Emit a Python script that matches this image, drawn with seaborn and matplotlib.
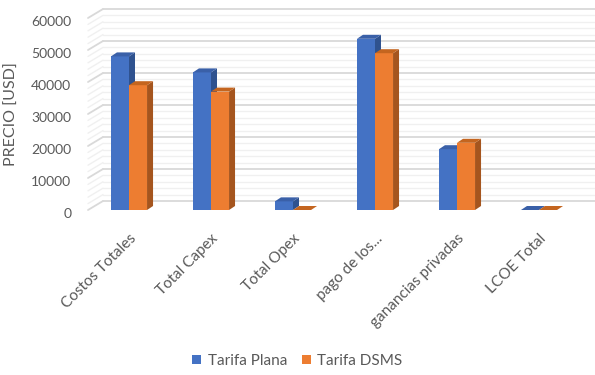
import matplotlib
matplotlib.use("Agg")
import matplotlib.pyplot as plt
import matplotlib.transforms as mtransforms
from matplotlib.patches import Polygon
from matplotlib.lines import Line2D
import seaborn as sns
import pandas as pd

categories = ["Costos Totales", "Total Capex", "Total Opex", "pago de los...",
              "ganancias privadas", "LCOE Total"]
series_names = ["Tarifa Plana", "Tarifa DSMS"]
tarifa_plana = [48000, 43000, 2700, 53500, 19000, 0]
tarifa_dsms = [39000, 37000, 0, 49000, 21000, 0]
y_ticks = [0, 10000, 20000, 30000, 40000, 50000, 60000]

df = pd.DataFrame({
    "categoria": categories * 2,
    "serie": [series_names[0]] * len(categories) + [series_names[1]] * len(categories),
    "precio": tarifa_plana + tarifa_dsms,
})

front = {"Tarifa Plana": "#4472C4", "Tarifa DSMS": "#ED7D31"}
side = {"Tarifa Plana": "#2F528F", "Tarifa DSMS": "#A5551E"}
top = {"Tarifa Plana": "#3A60A8", "Tarifa DSMS": "#C4651F"}
text_color = "#595959"

sns.set_theme(style="white")
plt.rcParams["font.family"] = ["Lato", "DejaVu Sans"]

W_PX, H_PX = 595, 375
fig = plt.figure(figsize=(W_PX / 100, H_PX / 100), dpi=100)
ax_left, ax_right, ax_top, ax_bottom = 88, 580, 18, 210
ax = fig.add_axes([ax_left / W_PX, 1 - ax_bottom / H_PX,
                   (ax_right - ax_left) / W_PX, (ax_bottom - ax_top) / H_PX])

sns.barplot(data=df, x="categoria", y="precio", hue="serie", order=categories,
            hue_order=series_names, palette=front, saturation=1, width=0.44,
            linewidth=0, legend=False, ax=ax, zorder=2)

ax.set_xlim(-0.5, len(categories) - 0.5)
ax.set_ylim(0, 60000)

# pixel -> data unit conversion for the fake depth
ux = (len(categories)) / (ax_right - ax_left)
uy = 60000 / (ax_bottom - ax_top)

# back wall and left side wall gridlines
wall_dx, wall_dy = 15 * ux, 9 * uy
x0, x1 = ax.get_xlim()
for v in range(0, 60001, 2000):
    major = v % 10000 == 0
    col = "#D9D9D9" if major else "#F0F0F0"
    lw = 1.3 if major else 1.0
    ax.add_line(Line2D([x0 + wall_dx, x1 + wall_dx], [v + wall_dy, v + wall_dy],
                       color=col, lw=lw, zorder=0.5 if major else 0.4, clip_on=False))
    ax.add_line(Line2D([x0, x0 + wall_dx], [v, v + wall_dy],
                       color=col, lw=lw, zorder=0.5 if major else 0.4, clip_on=False))

# side and top faces of each bar
bar_dx, bar_dy = 6 * ux, 4 * uy
for k, (name, cont) in enumerate(zip(series_names, ax.containers)):
    for rect in cont.patches:
        rect.set_zorder(2 + k)
        bx0 = rect.get_x()
        bx1 = bx0 + rect.get_width()
        h = rect.get_height()
        side_poly = Polygon([(bx1, 0), (bx1 + bar_dx, bar_dy), (bx1 + bar_dx, h + bar_dy), (bx1, h)],
                            closed=True, facecolor=side[name], edgecolor="none",
                            zorder=2 + k + 0.1, clip_on=False)
        top_poly = Polygon([(bx0, h), (bx0 + bar_dx, h + bar_dy), (bx1 + bar_dx, h + bar_dy), (bx1, h)],
                           closed=True, facecolor=top[name], edgecolor="none",
                           zorder=2 + k + 0.1, clip_on=False)
        ax.add_patch(side_poly)
        ax.add_patch(top_poly)

for s in ax.spines.values():
    s.set_visible(False)
ax.grid(False)

ax.set_yticks(y_ticks)
ax.set_yticklabels([str(t) for t in y_ticks])
ax.tick_params(axis="y", length=0, pad=12, labelsize=10, labelcolor=text_color)
down = mtransforms.ScaledTranslation(0, -3 / 100, fig.dpi_scale_trans)
for lab in ax.get_yticklabels():
    lab.set_transform(lab.get_transform() + down)
ax.tick_params(axis="x", length=0, pad=19, labelsize=11, labelcolor=text_color)
ax.set_xticks(range(len(categories)))
ax.set_xticklabels(categories, rotation=45, ha="right", va="center", rotation_mode="anchor")
shift = mtransforms.ScaledTranslation(5 / 100, 0, fig.dpi_scale_trans)
for lab in ax.get_xticklabels():
    lab.set_transform(lab.get_transform() + shift)
ax.set_xlabel("")
ax.set_ylabel("PRECIO [USD]", fontsize=11.5, color=text_color, labelpad=9)

handles = [plt.Rectangle((0, 0), 1, 1, facecolor=front[n], edgecolor="none") for n in series_names]
fig.legend(handles, series_names, loc="center", bbox_to_anchor=(0.5, 1 - 361 / H_PX),
           ncol=2, frameon=False, fontsize=11, labelcolor=text_color,
           handlelength=0.6, handleheight=0.6, handletextpad=0.4, columnspacing=1.0)

fig.savefig("out.png", dpi=100, facecolor="white")
